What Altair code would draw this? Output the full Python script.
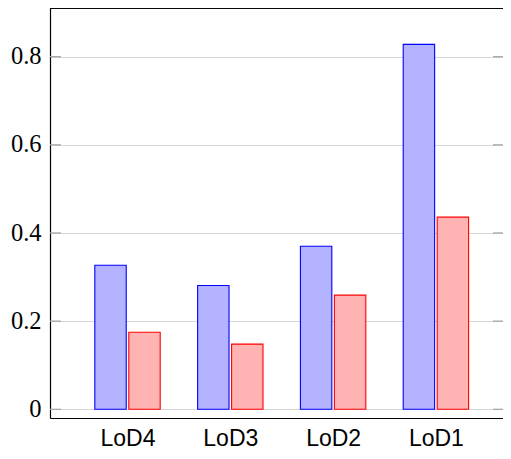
import altair as alt
import pandas as pd

categories = ["LoD4", "LoD3", "LoD2", "LoD1"]
series_blue = [0.327, 0.281, 0.370, 0.828]
series_red = [0.175, 0.148, 0.259, 0.436]
y_ticks = [0, 0.2, 0.4, 0.6, 0.8]

rows = []
for i, c in enumerate(categories):
    rows.append({"cat": c, "pos": i + 1, "series": "blue", "value": series_blue[i]})
    rows.append({"cat": c, "pos": i + 1, "series": "red", "value": series_red[i]})
df = pd.DataFrame(rows)
ticks_df = pd.DataFrame({"t": y_ticks})

W = 453
H = 410

xscale = alt.Scale(domain=[0.246, 0.246 + W / 102.8], nice=False, zero=False)
yscale = alt.Scale(domain=[-0.0197, 0.9105], nice=False, zero=False)

cat_list = ",".join("'%s'" % c for c in categories)
x_label_expr = "[%s][datum.value - 1]" % cat_list

bars = (
    alt.Chart(df)
    .transform_calculate(
        xa="datum.pos + (datum.series == 'blue' ? -0.318 : 0.0125)",
        xb="datum.pos + (datum.series == 'blue' ? -0.0125 : 0.318)",
    )
    .mark_rect(strokeWidth=1.1)
    .encode(
        x=alt.X(
            "xa:Q",
            scale=xscale,
            axis=alt.Axis(
                values=[1, 2, 3, 4],
                labelExpr=x_label_expr,
                ticks=False,
                grid=False,
                title=None,
                domainColor="#000000",
                domainWidth=1.2,
                labelFont="Liberation Sans",
                labelFontSize=23,
                labelColor="#000000",
                labelBaseline="alphabetic",
                labelPadding=27,
            ),
        ),
        x2="xb:Q",
        y=alt.Y(
            "value:Q",
            scale=yscale,
            axis=alt.Axis(
                values=y_ticks,
                labelExpr="datum.value == 0 ? '0' : format(datum.value, '.1f')",
                ticks=False,
                grid=True,
                gridColor="#d6d6d6",
                gridWidth=1.2,
                title=None,
                domainColor="#000000",
                domainWidth=1.2,
                labelFont="Liberation Serif",
                labelFontSize=24.5,
                labelColor="#000000",
                labelPadding=9,
            ),
        ),
        y2=alt.datum(0),
        fill=alt.Fill(
            "series:N",
            scale=alt.Scale(domain=["blue", "red"], range=["#b3b3ff", "#ffb3b3"]),
            legend=None,
        ),
        stroke=alt.Stroke(
            "series:N",
            scale=alt.Scale(domain=["blue", "red"], range=["#0000ff", "#ff0000"]),
            legend=None,
        ),
    )
)

left_ticks = alt.Chart(ticks_df).mark_rule(color="#a6a6a6", strokeWidth=1.3).encode(
    y=alt.Y("t:Q", scale=yscale), x=alt.value(0), x2=alt.value(11)
)
right_ticks = alt.Chart(ticks_df).mark_rule(color="#a6a6a6", strokeWidth=1.3).encode(
    y=alt.Y("t:Q", scale=yscale), x=alt.value(W - 10), x2=alt.value(W)
)
top_line = alt.Chart(ticks_df).mark_rule(color="#000000", strokeWidth=1.2).encode(
    y=alt.value(0), x=alt.value(0), x2=alt.value(W)
)

chart = (
    alt.layer(left_ticks, right_ticks, bars, top_line)
    .properties(
        width=W,
        height=H,
        autosize=alt.AutoSizeParams(type="none"),
        padding={"left": 42, "top": 0, "right": 0, "bottom": 33},
    )
    .configure_view(stroke="transparent", strokeWidth=0)
)

chart.save("out.html", embed_options={"renderer": "svg", "actions": False})
